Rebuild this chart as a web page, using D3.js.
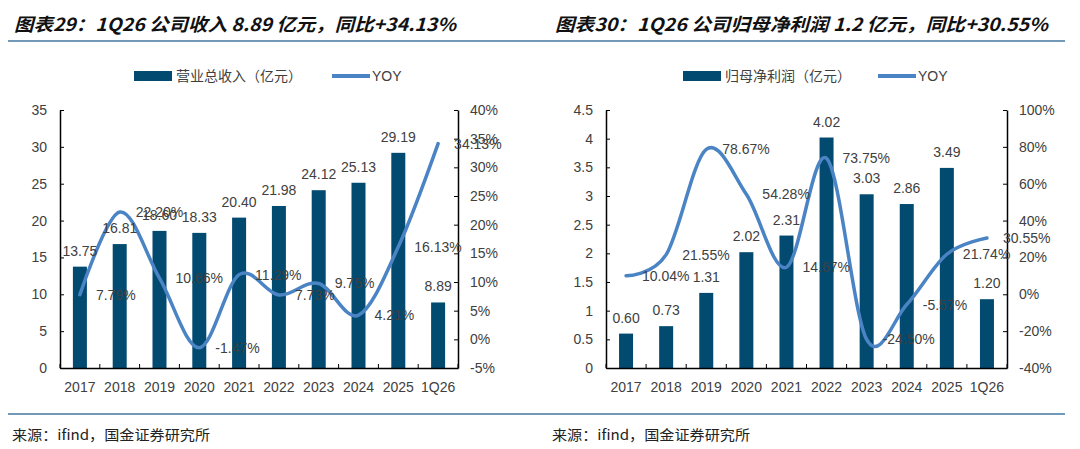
<!DOCTYPE html>
<html>
<head>
<meta charset="utf-8">
<script src="https://cdn.jsdelivr.net/npm/d3@7"></script>
<style>
  body { margin: 0; background: #fff; }
  svg { display: block; font-family: "Liberation Sans", Arial, "Noto Sans CJK SC", sans-serif; }
</style>
</head>
<body>
<svg id="chart" width="1080" height="449"></svg>
<script>
// categories
const years = ['2017', '2018', '2019', '2020', '2021', '2022', '2023', '2024', '2025', '1Q26'];

// left: revenue (亿元) and YOY (%)
const revenue = [13.75, 16.81, 18.60, 18.33, 20.40, 21.98, 24.12, 25.13, 29.19, 8.89];
const revenueYoy = [7.79, 22.20, 10.66, -1.47, 11.29, 7.73, 9.75, 4.21, 16.13, 34.13];
const revenueTicks = [0, 5, 10, 15, 20, 25, 30, 35];
const revenueYoyTicks = [-5, 0, 5, 10, 15, 20, 25, 30, 35, 40];

// right: net profit (亿元) and YOY (%)
const profit = [0.60, 0.73, 1.31, 2.02, 2.31, 4.02, 3.03, 2.86, 3.49, 1.20];
const profitYoy = [10.04, 21.55, 78.67, 54.28, 14.67, 73.75, -24.50, -5.57, 21.74, 30.55];
const profitTicks = [0, 0.5, 1, 1.5, 2, 2.5, 3, 3.5, 4, 4.5];
const profitYoyTicks = [-40, -20, 0, 20, 40, 60, 80, 100];

const BAR = '#024a70';
const LINE = '#4a84c4';
const TEXT = '#404040';

const svg = d3.select('#chart');

// header + footer rules (one long rule across both panels)
svg.append('line')
  .attr('x1', 8).attr('x2', 1065).attr('y1', 41).attr('y2', 41)
  .attr('stroke', '#7399b8').attr('stroke-width', 2);
svg.append('line')
  .attr('x1', 8).attr('x2', 1065).attr('y1', 414).attr('y2', 414)
  .attr('stroke', '#7399b8').attr('stroke-width', 2);

function drawPanel(cfg) {
  const g = svg.append('g');
  const top = 110, bottom = 368;

  // title
  g.append('text')
    .attr('x', cfg.titleX).attr('y', 31)
    .attr('textLength', cfg.titleW).attr('lengthAdjust', 'spacingAndGlyphs')
    .style('font-family', '"Noto Sans CJK SC", sans-serif')
    .style('font-size', '18px').style('font-weight', 'bold').style('font-style', 'italic')
    .attr('fill', '#111')
    .text(cfg.title);

  // footer
  g.append('text')
    .attr('x', cfg.footX).attr('y', 440)
    .attr('textLength', 198).attr('lengthAdjust', 'spacingAndGlyphs')
    .style('font-family', '"Noto Sans CJK SC", sans-serif')
    .style('font-size', '14px').attr('fill', '#222')
    .text('来源：ifind，国金证券研究所');

  // legend
  g.append('rect')
    .attr('x', cfg.legX).attr('y', 71).attr('width', 38).attr('height', 10)
    .attr('fill', BAR);
  g.append('text')
    .attr('x', cfg.legX + 42).attr('y', 81)
    .style('font-size', '14px').attr('fill', TEXT)
    .text(cfg.barName);
  g.append('line')
    .attr('x1', cfg.legX2).attr('x2', cfg.legX2 + 38).attr('y1', 76).attr('y2', 76)
    .attr('stroke', LINE).attr('stroke-width', 4);
  g.append('text')
    .attr('x', cfg.legX2 + 40).attr('y', 81)
    .style('font-size', '14px').attr('fill', TEXT)
    .text('YOY');

  const x = d3.scaleBand().domain(years).range([cfg.left, cfg.right]).padding(0);
  const y = d3.scaleLinear().domain(cfg.barDomain).range([bottom, top]);
  const y2 = d3.scaleLinear().domain(cfg.yoyDomain).range([bottom, top]);
  const cx = (d) => x(d) + x.bandwidth() / 2;
  const bw = 14;

  // bars
  g.append('g').selectAll('rect')
    .data(cfg.bars)
    .join('rect')
    .attr('x', (d, i) => cx(years[i]) - bw / 2)
    .attr('y', (d) => y(d))
    .attr('width', bw)
    .attr('height', (d) => bottom - y(d))
    .attr('fill', BAR);

  // left axis (ticks point inward)
  const leftAxis = g.append('g')
    .attr('transform', `translate(${cfg.left},0)`)
    .call(d3.axisLeft(y).tickValues(cfg.barTicks).tickSizeInner(-4).tickSizeOuter(0).tickPadding(13)
      .tickFormat((d) => String(d)));

  // right axis
  const rightAxis = g.append('g')
    .attr('transform', `translate(${cfg.right},0)`)
    .call(d3.axisRight(y2).tickValues(cfg.yoyTicks).tickSizeInner(-4).tickSizeOuter(0).tickPadding(12)
      .tickFormat((d) => d + '%'));

  // bottom axis: labels at band centres, ticks at band edges pointing up
  const bottomAxis = g.append('g')
    .attr('transform', `translate(0,${bottom})`)
    .call(d3.axisBottom(x).tickSize(0).tickPadding(14));
  bottomAxis.selectAll('.edge')
    .data(years.concat(['end']))
    .join('line')
    .attr('class', 'edge')
    .attr('x1', (d) => (d === 'end' ? cfg.right : x(d)))
    .attr('x2', (d) => (d === 'end' ? cfg.right : x(d)))
    .attr('y1', 0).attr('y2', -4)
    .attr('stroke', '#000');

  [leftAxis, rightAxis, bottomAxis].forEach((a) => {
    a.selectAll('path.domain').attr('stroke', '#000').attr('stroke-width', 1.5);
    a.selectAll('.tick line').attr('stroke', '#000');
    a.selectAll('.tick text').style('font-size', '14px').attr('fill', TEXT);
  });

  // YOY line (Excel-style smoothing)
  const line = d3.line()
    .x((d, i) => cx(years[i]))
    .y((d) => y2(d))
    .curve(d3.curveCardinal.tension(0));
  g.append('path')
    .datum(cfg.yoy)
    .attr('d', line)
    .attr('fill', 'none')
    .attr('stroke', LINE)
    .attr('stroke-width', 3.5)
    .attr('stroke-linecap', 'round');

  // bar value labels
  g.append('g').selectAll('text')
    .data(cfg.bars)
    .join('text')
    .attr('x', (d, i) => cx(years[i]))
    .attr('y', (d) => y(d) - 11)
    .attr('text-anchor', 'middle')
    .style('font-size', '14px').attr('fill', TEXT)
    .text((d) => d.toFixed(2));

  // YOY labels, right of each point
  g.append('g').selectAll('text')
    .data(cfg.yoy)
    .join('text')
    .attr('x', (d, i) => cx(years[i]) + 16)
    .attr('y', (d) => y2(d) + 5)
    .style('font-size', '14px').attr('fill', TEXT)
    .text((d) => d.toFixed(2) + '%');
}

drawPanel({
  title: '图表29：1Q26 公司收入 8.89 亿元，同比+34.13%',
  titleX: 14, titleW: 442,
  footX: 12,
  barName: '营业总收入（亿元）',
  legX: 134, legX2: 332,
  left: 60, right: 458,
  bars: revenue, yoy: revenueYoy,
  barDomain: [0, 35], yoyDomain: [-5, 40],
  barTicks: revenueTicks, yoyTicks: revenueYoyTicks,
});

drawPanel({
  title: '图表30：1Q26 公司归母净利润 1.2 亿元，同比+30.55%',
  titleX: 555, titleW: 493,
  footX: 552,
  barName: '归母净利润（亿元）',
  legX: 683, legX2: 878,
  left: 606, right: 1007,
  bars: profit, yoy: profitYoy,
  barDomain: [0, 4.5], yoyDomain: [-40, 100],
  barTicks: profitTicks, yoyTicks: profitYoyTicks,
});
</script>
</body>
</html>
